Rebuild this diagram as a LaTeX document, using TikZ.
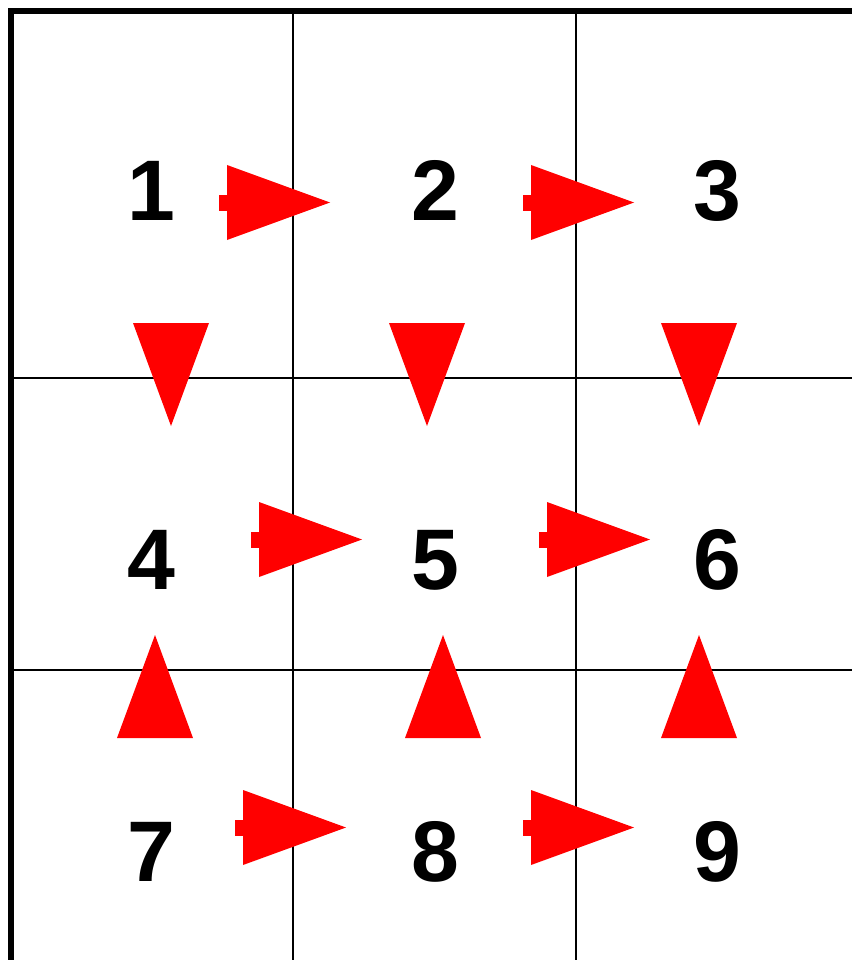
\documentclass[tikz,border=0pt]{standalone}
\usepackage{fontspec}
\setmainfont{Liberation Sans}
\tikzset{
  num/.style={font=\fontsize{86}{86}\selectfont\bfseries, inner sep=0pt, anchor=base},
  gridline/.style={line width=2.5pt, black},
  frameline/.style={line width=6pt, black},
  arrowfill/.style={fill=red, draw=none},
  harrow/.pic={
    \fill[arrowfill] (-8,-8) rectangle (0.5,8);
    \fill[arrowfill] (0,-37.5) -- (0,37.5) -- (103,0) -- cycle;
  },
  darrow/.pic={
    \fill[arrowfill] (-38,0) -- (38,0) -- (0,103) -- cycle;
  },
  uarrow/.pic={
    \fill[arrowfill] (-38,0) -- (38,0) -- (0,-103) -- cycle;
  }
}
\begin{document}
\begin{tikzpicture}[x=1pt,y=-1pt]
\useasboundingbox (0,0) rectangle (852,960);
% grid
\draw[gridline] (293,14) -- (293,960);
\draw[gridline] (576,14) -- (576,960);
\draw[gridline] (14,378) -- (852,378);
\draw[gridline] (14,670) -- (852,670);
% frame
\draw[frameline] (11,960) -- (11,11) -- (852,11);
% numbers
\node[num] (n1) at (151,220) {1};
\node[num] (n2) at (435,220) {2};
\node[num] (n3) at (717,220) {3};
\node[num] (n4) at (151,589) {4};
\node[num] (n5) at (435,589) {5};
\node[num] (n6) at (717,589) {6};
\node[num] (n7) at (151,881) {7};
\node[num] (n8) at (435,881) {8};
\node[num] (n9) at (717,881) {9};
% horizontal arrows
\pic at (227,202.5) {harrow};
\pic at (531,202.5) {harrow};
\pic at (259,539.5) {harrow};
\pic at (547,539.5) {harrow};
\pic at (243,827.5) {harrow};
\pic at (531,827.5) {harrow};
% down arrows
\pic at (171,323) {darrow};
\pic at (427,323) {darrow};
\pic at (699,323) {darrow};
% up arrows
\pic at (155,738) {uarrow};
\pic at (443,738) {uarrow};
\pic at (699,738) {uarrow};
\end{tikzpicture}
\end{document}
